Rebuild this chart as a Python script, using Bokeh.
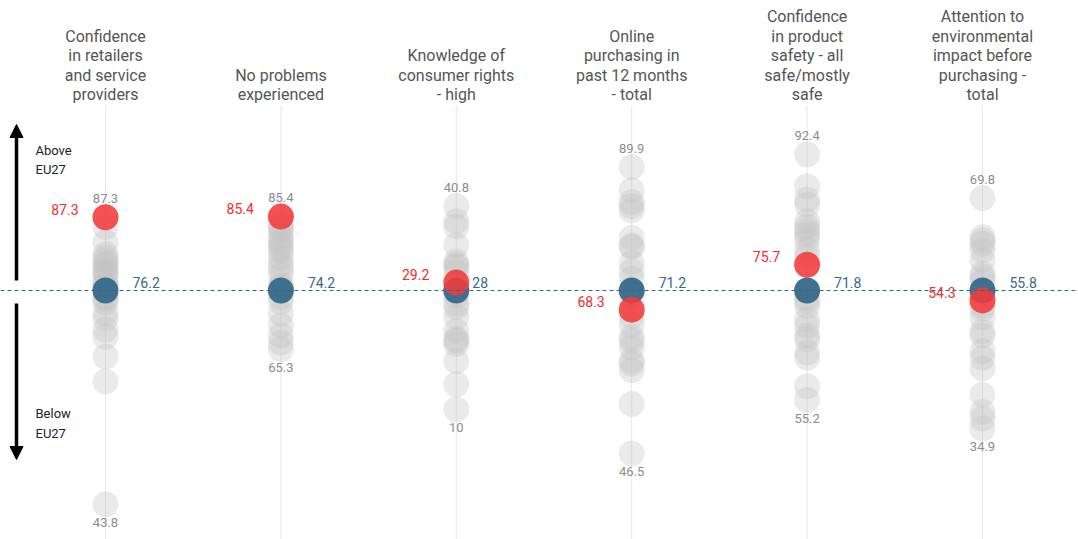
from bokeh.plotting import figure
from bokeh.models import Range1d, Span, Label, Arrow, NormalHead, ColumnDataSource
from bokeh.embed import file_html
from bokeh.resources import INLINE

# Indicators (column headers, one list of lines per column)
headers = [
    ["Confidence", "in retailers", "and service", "providers"],
    ["No problems", "experienced"],
    ["Knowledge of", "consumer rights", "- high"],
    ["Online", "purchasing in", "past 12 months", "- total"],
    ["Confidence", "in product", "safety - all", "safe/mostly", "safe"],
    ["Attention to", "environmental", "impact before", "purchasing -", "total"],
]

# EU27 average per indicator
eu27 = [76.2, 74.2, 28.0, 71.2, 71.8, 55.8]

# Highlighted country per indicator
country = [87.3, 85.4, 29.2, 68.3, 75.7, 54.3]

# Other member states per indicator
others = [
    [85.8, 83.5, 81.7, 80.7, 79.9, 79.2, 78.4, 77.6, 77.0, 75.2, 74.4, 72.8,
     72.0, 70.3, 69.2, 66.2, 62.4, 43.8, 80.2, 78.9, 81.2, 76.8, 74.9],
    [84.2, 83.3, 82.3, 81.3, 80.6, 80.2, 79.2, 78.2, 76.6, 75.0, 73.2, 72.5,
     70.7, 68.9, 67.4, 66.3, 65.3, 81.8, 77.5, 74.8, 83.8],
    [40.8, 38.5, 37.7, 34.9, 32.4, 31.6, 30.8, 27.2, 26.0, 24.0, 21.9, 20.7,
     19.9, 17.3, 13.8, 10.0, 20.4, 25.5, 31.9],
    [89.9, 86.4, 84.6, 84.0, 83.3, 79.2, 78.0, 75.4, 74.1, 73.0, 70.6, 67.3,
     66.0, 63.6, 62.6, 60.1, 59.1, 54.0, 46.5, 77.8, 64.1, 60.6],
    [92.4, 87.6, 85.6, 84.8, 82.3, 81.5, 80.3, 79.5, 78.0, 77.0, 70.7, 69.4,
     67.4, 66.4, 64.4, 62.4, 61.6, 57.3, 55.2, 70.2, 80.8, 65.0],
    [69.8, 63.9, 62.9, 61.9, 60.4, 58.3, 57.3, 53.0, 51.7, 49.6, 46.6, 45.6,
     44.0, 40.0, 37.4, 36.4, 34.9, 63.4, 57.9, 53.5, 49.0],
]

W, H = 1078, 539
COL0_PX, COL_STEP_PX = 105.0, 175.4     # column centres in pixels
ZERO_PX, PX_PER_UNIT = 290.0, 6.6       # EU27 line and vertical scale

x_lo = -COL0_PX / COL_STEP_PX
x_hi = (W - COL0_PX) / COL_STEP_PX
y_hi = ZERO_PX / PX_PER_UNIT
y_lo = -(H - ZERO_PX) / PX_PER_UNIT


def px_to_y(py):
    return (ZERO_PX - py) / PX_PER_UNIT


FONT = "Roboto"
GREY_TXT = "#8c8c8c"
RED = "#f23a3a"
RED_TXT = "#f52a2a"
BLUE = "#36698a"

p = figure(width=W, height=H, x_range=Range1d(x_lo, x_hi), y_range=Range1d(y_lo, y_hi),
           output_backend="svg", toolbar_location=None, min_border=0)
p.axis.visible = False
p.grid.visible = False
p.outline_line_color = None
p.background_fill_color = "white"

n = len(headers)
xs = list(range(n))

# light vertical guides under each header
p.segment(x0=xs, x1=xs, y0=[y_lo] * n, y1=[px_to_y(105)] * n,
          line_color="#e6e6e6", line_width=1)

# EU27 reference line
p.add_layout(Span(location=0, dimension="width", line_color="#2f6a8a",
                  line_dash="4 3", line_width=1))

# grey dots for the other member states (difference to EU27)
gx, gy = [], []
for i, vals in enumerate(others):
    for v in vals:
        gx.append(i)
        gy.append(v - eu27[i])
p.scatter(x=gx, y=gy, size=26, fill_color="#c4c4c4", fill_alpha=0.35, line_color=None)

# EU27 and highlighted country
p.scatter(x=xs, y=[0] * n, size=26, fill_color=BLUE, fill_alpha=0.95, line_color=None)
p.scatter(x=xs, y=[c - e for c, e in zip(country, eu27)], size=26,
          fill_color=RED, fill_alpha=0.88, line_color=None)

# max / min labels per indicator
mx, mn = [], []
for i in range(n):
    allv = others[i] + [country[i], eu27[i]]
    mx.append(max(allv))
    mn.append(min(allv))
src_mm = ColumnDataSource(dict(
    x=xs,
    ymax=[m - e for m, e in zip(mx, eu27)],
    ymin=[m - e for m, e in zip(mn, eu27)],
    tmax=[f"{m:g}" for m in mx],
    tmin=[f"{m:g}" for m in mn],
))
p.text(x="x", y="ymax", text="tmax", source=src_mm, y_offset=-19,
       text_align="center", text_baseline="middle", text_font_size="13px",
       text_color=GREY_TXT, text_font={"value": FONT})
p.text(x="x", y="ymin", text="tmin", source=src_mm, y_offset=18,
       text_align="center", text_baseline="middle", text_font_size="13px",
       text_color=GREY_TXT, text_font={"value": FONT})

# value labels for the country (left) and EU27 (right)
blue_dx = [27, 27, 16, 27, 27, 27]
src_lab = ColumnDataSource(dict(
    x=xs,
    yc=[c - e for c, e in zip(country, eu27)],
    tc=[f"{c:g}" for c in country],
    ye=[0] * n,
    te=[f"{e:g}" for e in eu27],
    dx=blue_dx,
))
p.text(x="x", y="yc", text="tc", source=src_lab, x_offset=-27, y_offset=-8,
       text_align="right", text_baseline="middle", text_font_size="14px",
       text_color=RED_TXT, text_font={"value": FONT})
p.text(x="x", y="ye", text="te", source=src_lab, x_offset="dx", y_offset=-8,
       text_align="left", text_baseline="middle", text_font_size="14px",
       text_color=BLUE, text_font={"value": FONT})

# column headers, bottom-aligned
LINE_H = 19.5
for i, lines in enumerate(headers):
    for k, line in enumerate(reversed(lines)):
        p.add_layout(Label(x=i, y=H - 94 + k * LINE_H, y_units="screen", text=line,
                           text_align="center", text_baseline="middle",
                           text_font=FONT, text_font_size="16px", text_color="#555555"))

# above / below arrows on the left
for y0, y1 in [(280, 124), (303, 459)]:
    p.add_layout(Arrow(x_start=16, y_start=H - y0, x_end=16, y_end=H - y1,
                       start_units="screen", end_units="screen",
                       line_width=3.5, line_color="black",
                       end=NormalHead(size=13, fill_color="black", line_color="black",
                                      line_width=1)))
for txt, py in [("Above", 150), ("EU27", 169), ("Below", 413), ("EU27", 433)]:
    p.add_layout(Label(x=35, y=H - py, x_units="screen", y_units="screen", text=txt,
                       text_align="left", text_baseline="middle", text_font=FONT,
                       text_font_size="13px", text_color="#222222"))

open("out.html", "w").write(file_html(p, INLINE))
